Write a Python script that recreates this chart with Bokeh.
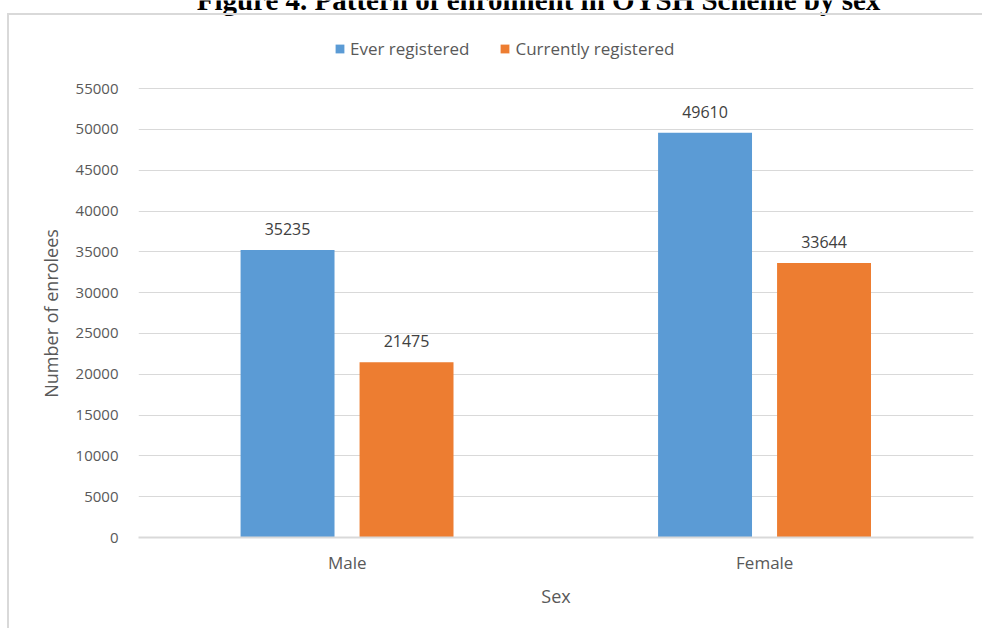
from bokeh.plotting import figure
from bokeh.models import (ColumnDataSource, Label, Legend, LegendItem,
                          FixedTicker, LabelSet, InlineStyleSheet)
from bokeh.transform import dodge
from bokeh.core.properties import value
from bokeh.embed import file_html
from bokeh.resources import INLINE

# ---- data ----
categories = ["Male", "Female"]
ever_registered = [35235, 49610]
currently_registered = [21475, 33644]
series_names = ["Ever registered", "Currently registered"]
y_ticks = list(range(0, 55001, 5000))
title_text = "Figure 4. Pattern of enrolment in OYSH Scheme by sex"
x_title = "Sex"
y_title = "Number of enrolees"

BLUE = "#5b9bd5"
ORANGE = "#ed7d31"
GREY_TXT = "#595959"
FONT = "Open Sans"

src = ColumnDataSource(dict(
    cat=categories,
    ever=ever_registered,
    cur=currently_registered,
    ever_txt=[str(v) for v in ever_registered],
    cur_txt=[str(v) for v in currently_registered],
))

border_css = InlineStyleSheet(css="""
:host::after {
  content: '';
  position: absolute;
  left: 7px; top: 13px; width: 1000px; height: 700px;
  border: 2px solid #d9d9d9;
  pointer-events: none;
  box-sizing: border-box;
}
""")

# frame reaches the top of the canvas; axis and grid stop at 55000
p = figure(x_range=categories, y_range=(0, 65800), width=982, height=628,
           output_backend="svg", toolbar_location=None,
           min_border_left=138, min_border_right=9, min_border_top=0, min_border_bottom=91,
           stylesheets=[border_css])
p.outline_line_color = None
p.background_fill_color = "white"
p.border_fill_color = "white"

r1 = p.vbar(x=dodge("cat", -0.143, range=p.x_range), top="ever", width=0.225,
            source=src, fill_color=BLUE, line_color=None)
r2 = p.vbar(x=dodge("cat", 0.142, range=p.x_range), top="cur", width=0.225,
            source=src, fill_color=ORANGE, line_color=None)

for xoff, col, txt in [(-0.143, "ever", "ever_txt"), (0.142, "cur", "cur_txt")]:
    ls = LabelSet(x=dodge("cat", xoff, range=p.x_range), y=col, text=txt, source=src,
                  y_offset=15, text_align="center", text_baseline="alphabetic",
                  text_font=value(FONT), text_font_size="16px", text_color="#404040")
    p.add_layout(ls)

# axes
p.yaxis.ticker = FixedTicker(ticks=y_ticks)
p.yaxis.bounds = (0, 55000)
p.yaxis.axis_line_color = None
p.yaxis.major_tick_line_color = None
p.yaxis.minor_tick_line_color = None
p.yaxis.major_tick_out = 0
p.yaxis.major_label_standoff = 20
p.yaxis.major_label_text_font = FONT
p.yaxis.major_label_text_font_size = "15px"
p.yaxis.major_label_text_color = GREY_TXT
# trailing no-break spaces keep the visible title centred on the 0-55000 span
p.yaxis.axis_label = y_title + "\u00a0" * 19
p.yaxis.axis_label_text_font = FONT
p.yaxis.axis_label_text_font_size = "18px"
p.yaxis.axis_label_text_font_style = "normal"
p.yaxis.axis_label_text_color = GREY_TXT
p.yaxis.axis_label_standoff = 10

p.xaxis.axis_line_color = "#d9d9d9"
p.xaxis.axis_line_width = 2
p.xaxis.major_tick_line_color = None
p.xaxis.minor_tick_line_color = None
p.xaxis.major_tick_out = 0
p.xaxis.major_label_standoff = 13
p.xaxis.major_label_text_font = FONT
p.xaxis.major_label_text_font_size = "17px"
p.xaxis.major_label_text_color = GREY_TXT
p.xaxis.axis_label = x_title
p.xaxis.axis_label_text_font = FONT
p.xaxis.axis_label_text_font_size = "18px"
p.xaxis.axis_label_text_font_style = "normal"
p.xaxis.axis_label_text_color = GREY_TXT
p.xaxis.axis_label_standoff = 7

p.xgrid.grid_line_color = None
p.ygrid.grid_line_color = "#d9d9d9"
p.ygrid.grid_line_width = 1

legend = Legend(items=[LegendItem(label=series_names[0], renderers=[r1]),
                       LegendItem(label=series_names[1], renderers=[r2])],
                orientation="horizontal", location=(196, 477),
                border_line_color=None, background_fill_alpha=0,
                glyph_width=11, glyph_height=11, label_standoff=5, spacing=30,
                label_text_font=FONT, label_text_font_size="17px",
                label_text_color=GREY_TXT, padding=0, margin=0)
p.add_layout(legend, "center")

title = Label(x=538, y=-1, x_units="canvas", y_units="canvas", text=title_text,
              text_align="center", text_baseline="alphabetic",
              text_font="Liberation Serif", text_font_size="29px",
              text_font_style="bold", text_color="black")
p.add_layout(title)

open("out.html", "w").write(file_html(p, INLINE))
